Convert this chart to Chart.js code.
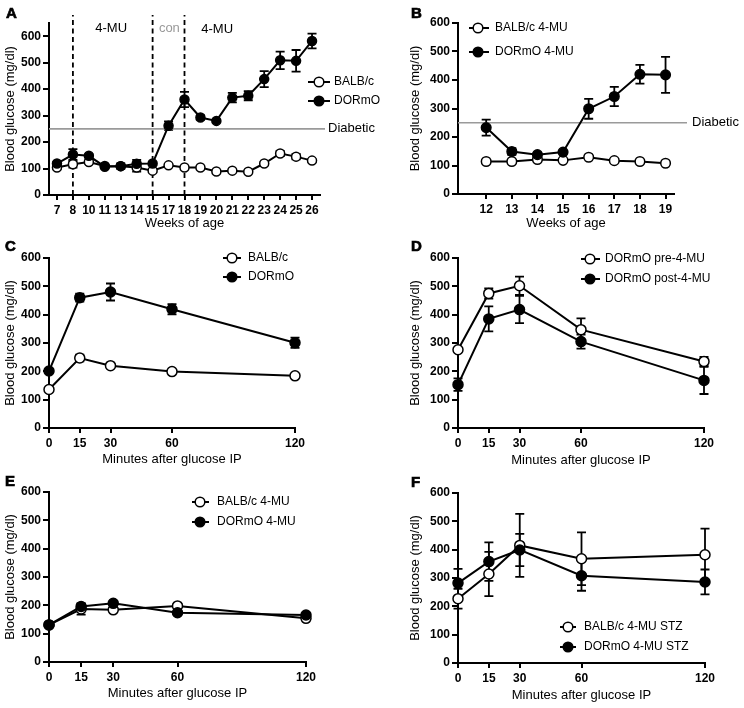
<!DOCTYPE html>
<html><head><meta charset="utf-8">
<script src="https://cdn.jsdelivr.net/npm/chart.js@4.4.1/dist/chart.umd.min.js"></script>
<style>
html,body{margin:0;padding:0;background:#fff;}
body{width:744px;height:708px;position:relative;overflow:hidden;}
canvas{position:absolute;display:block;}
</style></head><body>
<canvas id="cA" width="380" height="235" style="left:0;top:0"></canvas>
<canvas id="cB" width="372" height="235" style="left:372px;top:0"></canvas>
<canvas id="cC" width="372" height="235" style="left:0;top:235px"></canvas>
<canvas id="cD" width="372" height="235" style="left:372px;top:235px"></canvas>
<canvas id="cE" width="372" height="238" style="left:0;top:470px"></canvas>
<canvas id="cF" width="372" height="238" style="left:372px;top:470px"></canvas>
<script>
// ---------------- DATA ----------------
const yTicks = [0, 100, 200, 300, 400, 500, 600];
const diabeticThreshold = 250;

// Panel A
const weeksA = ['7','8','10','11','13','14','15','17','18','19','20','21','22','23','24','25','26'];
const balbA = [104,116,125,110,109,104,92,112,104,104,89,92,88,119,157,145,130];
const balbAErr = [5,12,6,5,5,16,5,4,4,4,4,4,4,5,10,10,5];
const dormoA = [119,153,148,107,109,118,119,262,361,293,280,368,375,438,509,507,582];
const dormoAErr = [6,20,6,5,10,15,5,16,29,8,5,18,17,30,33,41,28];
const treatmentWeeksA = ['8','15','18'];
const periodLabelsA = ['4-MU','con','4-MU'];

// Panel B
const weeksB = [12,13,14,15,16,17,18,19];
const balbB = [114,114,121,118,129,117,114,108];
const balbBErr = [4,4,4,4,4,4,4,4];
const dormoB = [233,149,138,147,299,342,420,418];
const dormoBErr = [28,12,7,5,35,34,33,63];

// Panels C-F
const minutes = [0,15,30,60,120];
const balbC = [136,247,220,199,184];
const balbCErr = [5,12,6,5,5];
const dormoC = [201,460,480,419,301];
const dormoCErr = [6,14,30,18,18];

const preD = [276,475,502,347,235];
const preDErr = [6,18,32,40,16];
const postD = [153,385,418,305,168];
const postDErr = [22,44,48,25,48];

const balbE = [131,187,184,198,154];
const balbEErr = [5,20,5,5,8];
const dormoE = [131,196,207,174,166];
const dormoEErr = [5,10,5,5,6];

const balbF = [227,314,415,368,382];
const balbFErr = [35,78,111,93,92];
const dormoF = [282,358,399,308,286];
const dormoFErr = [50,68,57,53,44];

// ---------------- STYLE ----------------
const FONT = "'Liberation Sans', Arial, Helvetica, sans-serif";
Chart.defaults.font.family = FONT;
Chart.defaults.color = '#000';

function yScale(g) {
  return {
    type: 'linear', position: 'left', min: 0, max: g.ymax, bounds: 'data',
    afterBuildTicks: s => { s.ticks = yTicks.map(v => ({value: v})); },
    afterFit: s => { s.width = g.left; },
    border: {display: true, color: '#000', width: 2},
    grid: {display: true, drawOnChartArea: false, drawTicks: true, tickLength: 6, color: '#000', lineWidth: 2},
    ticks: {font: {size: 12, weight: 'bold'}, padding: 2, color: '#000'},
    title: {display: true, text: 'Blood glucose (mg/dl)', font: {size: 13}, color: '#000', padding: {top: g.yTitlePad, bottom: 0}}
  };
}
function xCommon(g, title) {
  return {
    position: 'bottom',
    afterFit: s => { s.height = g.H - g.bottom; },
    border: {display: true, color: '#000', width: 2},
    grid: {display: true, drawOnChartArea: false, drawTicks: true, tickLength: 5, color: '#000', lineWidth: 2, offset: false},
    ticks: {font: {size: 12, weight: 'bold'}, padding: 3, color: '#000', autoSkip: false, maxRotation: 0, minRotation: 0},
    title: {display: true, text: title, font: {size: 13}, color: '#000', padding: {top: 0, bottom: g.xTitlePad}}
  };
}
function xCategory(g, title) {
  return Object.assign(xCommon(g, title), {type: 'category', offset: true});
}
function xLinear(g, title, min, max, tickVals) {
  return Object.assign(xCommon(g, title), {
    type: 'linear', min, max, bounds: 'data',
    afterBuildTicks: s => { s.ticks = tickVals.map(v => ({value: v})); }
  });
}

function series(label, values, err, filled, xs, r) {
  return {
    label,
    data: xs ? xs.map((x, i) => ({x, y: values[i]})) : values,
    err,
    filled,
    borderColor: '#000', borderWidth: 2,
    backgroundColor: filled ? '#000' : '#fff',
    pointRadius: r, pointBorderWidth: 1.5,
    pointBackgroundColor: filled ? '#000' : '#fff', pointBorderColor: '#000',
    tension: 0, fill: false, clip: false,
    order: filled ? 1 : 2
  };
}

const errorBars = {
  id: 'errorBars',
  beforeDatasetsDraw(chart) {
    const ctx = chart.ctx, ys = chart.scales.y;
    chart.data.datasets.forEach((d, di) => {
      if (!d.err) return;
      const meta = chart.getDatasetMeta(di);
      meta.data.forEach((pt, i) => {
        const raw = d.data[i];
        const v = typeof raw === 'object' ? raw.y : raw;
        const e = d.err[i];
        if (!e) return;
        const yt = ys.getPixelForValue(v + e), yb = ys.getPixelForValue(v - e);
        const x = pt.x, cw = 4.5;
        ctx.save();
        ctx.strokeStyle = '#000'; ctx.lineWidth = 1.8;
        ctx.beginPath();
        ctx.moveTo(x, yt); ctx.lineTo(x, yb);
        ctx.moveTo(x - cw, yt); ctx.lineTo(x + cw, yt);
        ctx.moveTo(x - cw, yb); ctx.lineTo(x + cw, yb);
        ctx.stroke();
        ctx.restore();
      });
    });
  }
};

function overlay(g) {
  return {
    id: 'overlay' + g.letter,
    beforeDatasetsDraw(chart) {
      const ctx = chart.ctx, ca = chart.chartArea, xs = chart.scales.x, ys = chart.scales.y;
      ctx.save();
      if (g.diabetic) {
        const yy = ys.getPixelForValue(diabeticThreshold);
        ctx.strokeStyle = '#9a9a9a'; ctx.lineWidth = 1.6;
        ctx.beginPath(); ctx.moveTo(ca.left, yy); ctx.lineTo(ca.right + g.diabetic.ext, yy); ctx.stroke();
        ctx.fillStyle = '#000'; ctx.font = '13px ' + FONT; ctx.textBaseline = 'middle'; ctx.textAlign = 'left';
        ctx.fillText('Diabetic', ca.right + g.diabetic.tx, yy);
      }
      if (g.dashed) {
        ctx.strokeStyle = '#000'; ctx.lineWidth = 1.8; ctx.setLineDash([5, 3.5]);
        g.dashed.forEach(w => {
          const xx = xs.getPixelForValue(weeksA.indexOf(w));
          ctx.beginPath(); ctx.moveTo(xx, ca.bottom); ctx.lineTo(xx, 15); ctx.stroke();
        });
        ctx.setLineDash([]);
        ctx.font = '13px ' + FONT; ctx.textBaseline = 'middle'; ctx.textAlign = 'center';
        g.periods.forEach((p, i) => {
          ctx.fillStyle = p.color;
          ctx.fillText(periodLabelsA[i], xs.getPixelForValue(p.at), p.y);
        });
      }
      ctx.restore();
    },
    afterDraw(chart) {
      const ctx = chart.ctx;
      ctx.save();
      ctx.fillStyle = '#000'; ctx.strokeStyle = '#000'; ctx.lineWidth = 0.7;
      ctx.font = 'bold 15px ' + FONT; ctx.textBaseline = 'alphabetic'; ctx.textAlign = 'left';
      ctx.fillText(g.letter, g.letterX, g.letterY);
      ctx.strokeText(g.letter, g.letterX, g.letterY);
      const L = g.legend;
      chart.data.datasets.forEach((d, i) => {
        const y = L.ys[i];
        ctx.strokeStyle = '#000'; ctx.lineWidth = 2;
        ctx.beginPath(); ctx.moveTo(L.sx, y); ctx.lineTo(L.sx + L.sw, y); ctx.stroke();
        ctx.beginPath(); ctx.arc(L.cx, y, 4.8, 0, Math.PI * 2);
        ctx.fillStyle = d.filled ? '#000' : '#fff'; ctx.fill();
        ctx.lineWidth = 1.5; ctx.stroke();
        ctx.fillStyle = '#000'; ctx.font = '12px ' + FONT; ctx.textBaseline = 'middle'; ctx.textAlign = 'left';
        ctx.fillText(d.label, L.tx, y);
      });
      ctx.restore();
    }
  };
}

function makePanel(id, g, xScale, labels, datasets) {
  return new Chart(document.getElementById(id), {
    type: 'line',
    data: {labels, datasets},
    options: {
      responsive: false, animation: false, events: [],
      layout: {padding: {left: 0, top: g.top, right: g.W - g.right, bottom: 0}},
      scales: {x: xScale, y: yScale(g)},
      plugins: {legend: {display: false}, tooltip: {enabled: false}}
    },
    plugins: [errorBars, overlay(g)]
  });
}

// ---------------- PANELS ----------------
const gA = {letter: 'A', letterX: 6, letterY: 18, W: 380, H: 235, left: 49, top: 23, right: 320, bottom: 195, ymax: 650,
  yTitlePad: 2.5, xTitlePad: 3.7,
  diabetic: {ext: 5, tx: 8},
  dashed: treatmentWeeksA,
  periods: [{at: 3.4, y: 28, color: '#000'}, {at: 7.05, y: 28, color: '#999'}, {at: 10.05, y: 29, color: '#000'}],
  legend: {sx: 308, sw: 22, cx: 319, tx: 334, ys: [82, 101]}};
makePanel('cA', gA, xCategory(gA, 'Weeks of age'), weeksA, [
  series('BALB/c', balbA, balbAErr, false, null, 4.5),
  series('DORmO', dormoA, dormoAErr, true, null, 4.5)
]);

const gB = {letter: 'B', letterX: 39, letterY: 18, W: 372, H: 235, left: 86, top: 23, right: 302, bottom: 194, ymax: 600,
  yTitlePad: 36, xTitlePad: 3.5,
  diabetic: {ext: 13, tx: 18},
  legend: {sx: 97, sw: 20, cx: 106, tx: 123, ys: [28, 52]}};
makePanel('cB', gB, xLinear(gB, 'Weeks of age', 10.9, 19.33, weeksB), undefined, [
  series('BALB/c 4-MU', balbB, balbBErr, false, weeksB, 4.8),
  series('DORmO 4-MU', dormoB, dormoBErr, true, weeksB, 4.8)
]);

const gC = {letter: 'C', letterX: 5, letterY: 16, W: 372, H: 235, left: 49, top: 23, right: 295, bottom: 193, ymax: 600,
  yTitlePad: 2.5, xTitlePad: 3.2,
  legend: {sx: 223, sw: 18, cx: 232, tx: 248, ys: [23, 42]}};
makePanel('cC', gC, xLinear(gC, 'Minutes after glucose IP', 0, 120, minutes), undefined, [
  series('BALB/c', balbC, balbCErr, false, minutes, 5),
  series('DORmO', dormoC, dormoCErr, true, minutes, 5)
]);

const gD = {letter: 'D', letterX: 39, letterY: 16, W: 372, H: 235, left: 86, top: 23, right: 332, bottom: 193, ymax: 600,
  yTitlePad: 36, xTitlePad: 2,
  legend: {sx: 209, sw: 19, cx: 218, tx: 233, ys: [24, 44]}};
makePanel('cD', gD, xLinear(gD, 'Minutes after glucose IP', 0, 120, minutes), undefined, [
  series('DORmO pre-4-MU', preD, preDErr, false, minutes, 5),
  series('DORmO post-4-MU', postD, postDErr, true, minutes, 5)
]);

const gE = {letter: 'E', letterX: 5, letterY: 16, W: 372, H: 238, left: 49, top: 22, right: 306, bottom: 192, ymax: 600,
  yTitlePad: 2.5, xTitlePad: 6.7,
  legend: {sx: 192, sw: 17, cx: 200, tx: 217, ys: [32, 52]}};
makePanel('cE', gE, xLinear(gE, 'Minutes after glucose IP', 0, 120, minutes), undefined, [
  series('BALB/c 4-MU', balbE, balbEErr, false, minutes, 5),
  series('DORmO 4-MU', dormoE, dormoEErr, true, minutes, 5)
]);

const gF = {letter: 'F', letterX: 39, letterY: 16.5, W: 372, H: 238, left: 86, top: 23, right: 333, bottom: 193, ymax: 600,
  yTitlePad: 36, xTitlePad: 5,
  legend: {sx: 188, sw: 16, cx: 196, tx: 212, ys: [157, 177]}};
makePanel('cF', gF, xLinear(gF, 'Minutes after glucose IP', 0, 120, minutes), undefined, [
  series('BALB/c 4-MU STZ', balbF, balbFErr, false, minutes, 5),
  series('DORmO 4-MU STZ', dormoF, dormoFErr, true, minutes, 5)
]);
</script>
</body></html>
